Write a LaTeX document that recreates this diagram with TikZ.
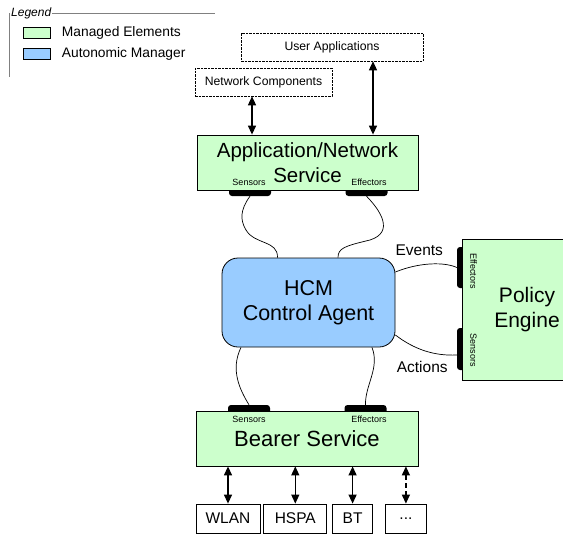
\documentclass[tikz,border=0pt]{standalone}
\usepackage{fontspec}
\setmainfont{Liberation Sans}
\usetikzlibrary{positioning,arrows.meta}

\definecolor{managed}{HTML}{CCFFCC}
\definecolor{manager}{HTML}{99CCFF}

\begin{document}
\begin{tikzpicture}[x=1pt, y=-1pt,
    box/.style={draw, line width=0.8pt, inner sep=0pt, align=center},
    ext/.style={box, line width=0.6pt, dash pattern=on 2.5pt off 1pt, fill=white, font=\fontsize{12.2}{14}\selectfont},
    elem/.style={box, fill=managed},
    pad/.style={fill=black, rounded corners=3pt, inner sep=0pt},
    tiny/.style={inner sep=0pt, font=\fontsize{9}{10}\selectfont},
    arr/.style={line width=1.3pt, {Triangle[length=9pt,width=8pt]}-{Triangle[length=9pt,width=8pt]}},
    link/.style={line width=0.7pt}]

    \clip (0,0) rectangle (563,536);

    % legende
    \node[inner sep=1pt, anchor=west, font=\itshape\fontsize{12}{13}\selectfont] (leg) at (10,13) {Legend};
    \draw[gray, line width=0.6pt] (leg.east) -- (215,13);
    \draw[gray, line width=0.6pt] (leg.west) -- (9,13) -- (9,77);
    \node[draw, line width=0.8pt, fill=managed, minimum width=27pt, minimum height=11pt, inner sep=0pt] (keyme) at (36.5,32.5) {};
    \node[draw, line width=0.8pt, fill=manager, minimum width=27pt, minimum height=11pt, inner sep=0pt] (keyam) at (36.5,53.5) {};
    \node[right=8pt of keyme, font=\fontsize{13.8}{15}\selectfont] {Managed Elements};
    \node[right=8pt of keyam, font=\fontsize{13.8}{15}\selectfont] {Autonomic Manager};

    % elements externes
    \node[ext, minimum width=182pt, minimum height=28pt] (ua) at (332,47) {User Applications};
    \node[ext, minimum width=137pt, minimum height=28pt] (nc) at (263.5,82) {Network Components};

    % service application/reseau
    \node[pad, minimum width=42pt, minimum height=10pt] (anss) at (250,191) {};
    \node[pad, minimum width=42pt, minimum height=10pt] (anse) at (366.5,191) {};
    \node[elem, minimum width=221pt, minimum height=55pt, font=\fontsize{20.5}{25}\selectfont] (ans) at (307.5,162.5) {Application/Network\\Service};
    \node[tiny] at (249,182) {Sensors};
    \node[tiny] at (369,182) {Effectors};

    % agent
    \node[box, fill=manager, rounded corners=16pt, minimum width=173pt, minimum height=89pt, font=\fontsize{21.5}{25.5}\selectfont] (hcm) at (308.5,302.5) {HCM\\Control Agent};

    % moteur de regles
    \node[pad, minimum width=10pt, minimum height=41pt] (pee) at (462,267.5) {};
    \node[pad, minimum width=10pt, minimum height=42pt] (pes) at (462,349) {};
    \node[elem, minimum width=130pt, minimum height=141pt, font=\fontsize{21}{25}\selectfont] (pe) at (527,309.5) {Policy\\Engine};
    \node[tiny, rotate=-90] at (473.5,271) {Effectors};
    \node[tiny, rotate=-90] at (473.5,350) {Sensors};

    % service support
    \node[pad, minimum width=42pt, minimum height=10pt] (bss) at (249,410) {};
    \node[pad, minimum width=42pt, minimum height=10pt] (bse) at (365.5,410) {};
    \node[elem, minimum width=222pt, minimum height=55pt, font=\fontsize{22}{26}\selectfont] (bs) at (307,438.5) {Bearer Service};
    \node[tiny] at (249,419) {Sensors};
    \node[tiny] at (369,419) {Effectors};

    % technologies d'acces
    \begin{scope}[every node/.style={box, minimum height=29pt, font=\fontsize{15.5}{17}\selectfont}]
        \node[minimum width=64pt] (wlan) at (228,518.5) {WLAN};
        \node[minimum width=63pt, right=3pt of wlan] (hspa) {HSPA};
        \node[minimum width=40pt, right=5pt of hspa] (bt) {BT};
        \node[minimum width=41pt, right=12pt of bt] (more) {...};
    \end{scope}

    % fleches
    \coordinate (ncA) at ([xshift=-11.5pt]nc.south);
    \coordinate (uaA) at ([xshift=41pt]ua.south);
    \draw[arr] (ncA) -- (ncA |- ans.north);
    \draw[arr] (uaA) -- (uaA |- ans.north);
    \draw[arr] (wlan.north |- bs.south) -- (wlan.north);
    \draw[arr] (hspa.north |- bs.south) -- (hspa.north);
    \draw[arr] (bt.north |- bs.south) -- (bt.north);
    \draw[arr, dash pattern=on 5pt off 3pt] (more.north |- bs.south) -- (more.north);

    % liaisons
    \coordinate (h1) at ([xshift=-31pt]hcm.north);
    \coordinate (h2) at ([xshift=29.5pt]hcm.north);
    \coordinate (h3) at ([xshift=-67.5pt]hcm.south);
    \coordinate (h4) at ([xshift=63.5pt]hcm.south);
    \coordinate (h5) at ([yshift=30.5pt]hcm.east);
    \coordinate (h6) at ([yshift=-32.5pt]hcm.east);
    \draw[link] (anss.south) .. controls (240,210) and (240,220) .. (246,230) .. controls (255,245) and (278,240) .. (h1);
    \draw[link] (anse.south) .. controls (380,210) and (395,232) .. (370,240) .. controls (345,246) and (338,248) .. (h2);
    \draw[link] (h3) .. controls (230,370) and (240,390) .. (bss.north);
    \draw[link] (h4) .. controls (380,368) and (365,385) .. (bse.north);
    \draw[link] (h5) .. controls (420,262) and (445,262) .. (pee.west) node[pos=0.4, above=5pt, xshift=-5pt, font=\fontsize{15.5}{17}\selectfont] {Events};
    \draw[link] (h6) .. controls (415,350) and (435,356) .. ([yshift=-6pt]pes.west) node[pos=0.45, below=8pt, font=\fontsize{15.5}{17}\selectfont] {Actions};

\end{tikzpicture}
\end{document}
